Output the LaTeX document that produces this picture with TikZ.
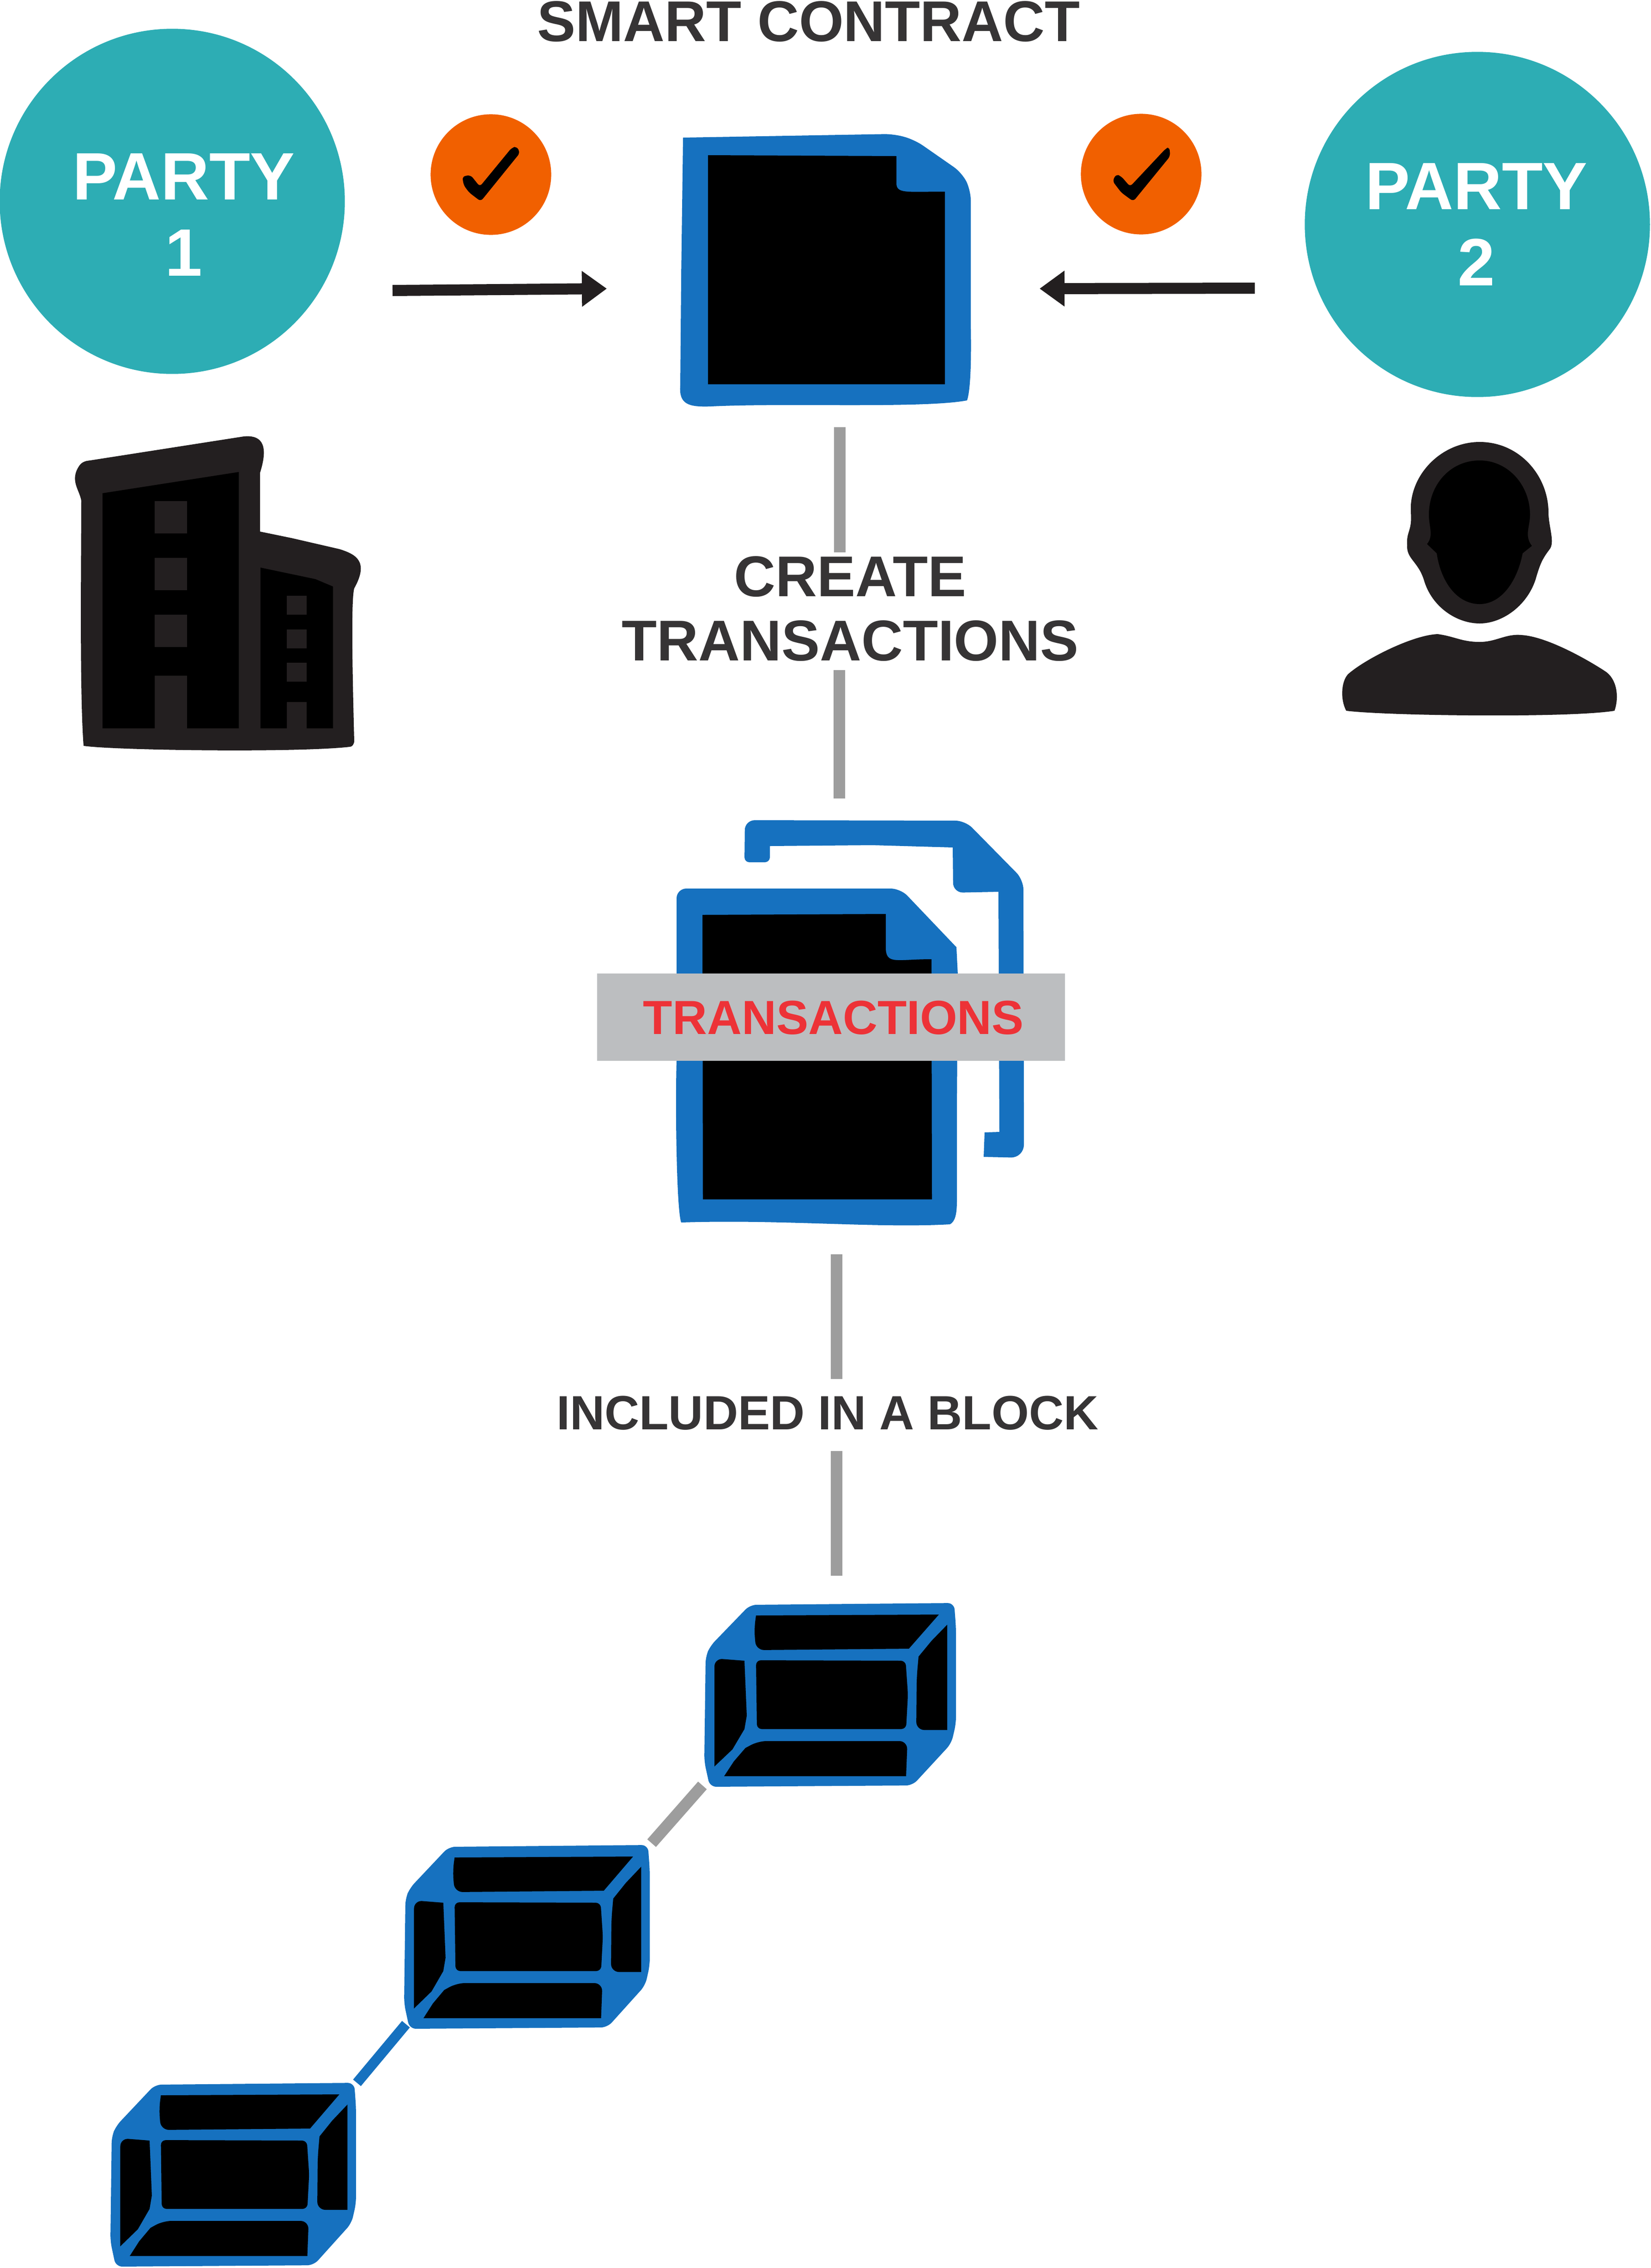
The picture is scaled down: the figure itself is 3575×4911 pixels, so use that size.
\documentclass[tikz,border=0pt]{standalone}
\usepackage{fontspec}
\setmainfont{Liberation Sans}
\usetikzlibrary{arrows.meta}
\definecolor{partyteal}{HTML}{2DADB4}
\definecolor{okorange}{HTML}{F16000}
\definecolor{docblue}{HTML}{1671BF}
\definecolor{inkdark}{HTML}{231F20}
\definecolor{labelgray}{HTML}{363435}
\definecolor{linkgray}{HTML}{9D9D9D}
\definecolor{bargray}{HTML}{BCBEC0}
\definecolor{txred}{HTML}{ED3237}
\tikzstyle{party}=[circle,fill=partyteal,inner sep=0pt,minimum size=7.47cm]
\tikzstyle{partytext}=[text=white,align=center,inner sep=0pt,font=\fontsize{41.3}{46.7}\selectfont\bfseries]
\tikzstyle{okdot}=[circle,fill=okorange,inner sep=0pt,minimum size=2.61cm]
\tikzstyle{heading}=[text=labelgray,align=center,inner sep=0pt,font=\fontsize{35.4}{39.7}\selectfont\bfseries]
\tikzstyle{sendarrow}=[draw=inkdark,line width=0.24cm,-{Triangle[length=0.54cm,width=0.74cm]}]
\tikzstyle{greylink}=[draw=linkgray,line width=0.25cm]
\tikzstyle{bluelink}=[draw=docblue,line width=0.22cm]
\tikzstyle{sheet}=[fill=docblue]
\tikzstyle{face}=[fill=black]

\begin{document}
\begin{tikzpicture}[x=0.01cm,y=-0.01cm]
\useasboundingbox (0,0) rectangle (3575,4911);

% parties
\node[party] (party1) at (373,436) {};
\node[party] (party2) at (3199,486) {};
\node[partytext] (party1txt) at (398,465) {PARTY\\1};
\node[partytext] (party2txt) at (3197,486) {PARTY\\2};

\node[okdot] (ok1) at (1063,378) {};
\node[okdot] (ok2) at (2471,377) {};
\fill[black,rounded corners=2pt] (1001,382) -- (1019,379) -- (1039,404) -- (1108,320) -- (1119,317) -- (1126,331) -- (1041,436) -- (1016,417) -- (1004,401) -- cycle;
\fill[black,rounded corners=2pt] (2409,392) -- (2417,377) -- (2428,382) -- (2447,404) -- (2524,322) -- (2532,318) -- (2534,338) -- (2454,436) -- (2428,417) -- cycle;

% contract
\node[heading] (title) at (1751,47) {SMART CONTRACT};
\fill[sheet] (1479,298) [rounded corners=6pt] -- (1936,290) -- (1981,303) -- (2083,374) -- (2102,412) [sharp corners] -- (2102,700) .. controls (2104,800) and (2100,850) .. (2094,867) .. controls (2000,885) and (1700,872) .. (1540,880) .. controls (1490,882) and (1470,875) .. (1473,835) -- (1475,600) -- cycle;
\fill[black] (1533,336) -- (1941,338) -- (1941,396) .. controls (1941,420) and (1960,415) .. (2046,415) -- (2046,832) -- (1533,832) -- cycle;

\coordinate (arrow1a) at (850,629);
\coordinate (arrow1b) at (1314,625);
\coordinate (arrow2a) at (2717,624);
\coordinate (arrow2b) at (2251,625);
\draw[sendarrow] (arrow1a) -- (arrow1b);
\draw[sendarrow] (arrow2a) -- (arrow2b);

% company
\fill[inkdark] (181,1615) .. controls (172,1500) and (176,1200) .. (176,1084) .. controls (172,1060) and (150,1040) .. (172,1008) .. controls (178,1000) and (185,998) .. (195,997) -- (528,945) .. controls (560,942) and (585,955) .. (563,1024) -- (563,1151) -- (631,1165) -- (735,1189) .. controls (770,1200) and (800,1215) .. (767,1274) .. controls (760,1300) and (763,1450) .. (767,1604) .. controls (767,1612) and (762,1617) .. (758,1617) .. controls (650,1630) and (250,1625) .. (181,1615) -- cycle;
\fill[black] (222,1068) -- (517,1022) -- (517,1577) -- (405,1577) -- (405,1463) -- (335,1463) -- (335,1577) -- (222,1577) -- cycle;
\fill[black] (564,1229) -- (683,1254) -- (721,1270) -- (721,1577) -- (664,1577) -- (664,1520) -- (621,1520) -- (621,1577) -- (564,1577) -- cycle;
\foreach \wy in {1085,1208,1331} {
	\fill[inkdark] (335,\wy) rectangle ++(70,70);
};
\foreach \wy in {1290,1363,1435} {
	\fill[inkdark] (621,\wy) rectangle ++(43,41);
};

% person
\fill[inkdark] (3204,957) .. controls (3290,957) and (3353,1030) .. (3353,1110) .. controls (3353,1140) and (3368,1175) .. (3355,1190) .. controls (3340,1210) and (3335,1220) .. (3325,1255) .. controls (3305,1315) and (3250,1350) .. (3204,1350) .. controls (3155,1350) and (3100,1315) .. (3083,1255) .. controls (3070,1215) and (3045,1210) .. (3047,1180) .. controls (3045,1150) and (3058,1150) .. (3055,1110) .. controls (3050,1030) and (3120,957) .. (3204,957) -- cycle;
\fill[black] (3204,997) .. controls (3265,997) and (3313,1050) .. (3313,1115) .. controls (3313,1140) and (3300,1160) .. (3317,1182) -- (3297,1198) .. controls (3285,1260) and (3250,1308) .. (3204,1308) .. controls (3155,1308) and (3120,1260) .. (3111,1198) -- (3090,1178) .. controls (3105,1160) and (3094,1140) .. (3094,1115) .. controls (3094,1050) and (3140,997) .. (3204,997) -- cycle;
\fill[inkdark] (2915,1539) .. controls (2900,1510) and (2906,1470) .. (2921,1458) .. controls (2960,1425) and (3060,1375) .. (3113,1373) .. controls (3150,1378) and (3165,1390) .. (3204,1390) .. controls (3240,1390) and (3260,1372) .. (3294,1375) .. controls (3350,1378) and (3440,1430) .. (3475,1453) .. controls (3502,1470) and (3506,1510) .. (3496,1539) .. controls (3400,1555) and (3000,1550) .. (2915,1539) -- cycle;

% middle labels and links
\node[heading] (create) at (1841,1318) {CREATE\\TRANSACTIONS};
\node[heading,font=\fontsize{29.6}{30}\selectfont\bfseries] (included) at (1792,3060) {INCLUDED IN A BLOCK};

\coordinate (link1a) at (1818,925);
\coordinate (link1b) at (1818,1196);
\coordinate (link2a) at (1817,1451);
\coordinate (link2b) at (1817,1729);
\coordinate (link3a) at (1811,2716);
\coordinate (link3b) at (1811,2986);
\coordinate (link4a) at (1811,3142);
\coordinate (link4b) at (1811,3412);
\coordinate (link5a) at (1521,3866);
\coordinate (link5b) at (1411,3991);
\coordinate (link6a) at (879,4383);
\coordinate (link6b) at (773,4510);
\foreach \i in {1,...,5} {
	\draw[greylink] (link\i a) -- (link\i b);
};
\draw[bluelink] (link6a) -- (link6b);

% transaction sheets
\fill[sheet] (1612,1867) [rounded corners=6pt] -- (1613,1776) -- (2090,1777) -- (2216,1905) [sharp corners] -- (2217,2400) [rounded corners=8pt] -- (2217,2507) [sharp corners] -- (2130,2505) -- (2132,2452) -- (2164,2451) -- (2162,1931) [rounded corners=6pt] -- (2064,1933) [sharp corners] -- (2063,1835) -- (1888,1830) -- (1667,1832) [rounded corners=3pt] -- (1667,1867) -- cycle;
\fill[sheet] (1465,2100) [rounded corners=6pt] -- (1465,1924) -- (1950,1924) [sharp corners] -- (2071,2051) -- (2074,2110) -- (2072,2400) -- (2072,2600) .. controls (2072,2630) and (2068,2645) .. (2057,2651) .. controls (1900,2660) and (1700,2640) .. (1475,2647) .. controls (1465,2620) and (1462,2400) .. (1465,2297) -- cycle;
\fill[black] (1521,1981) -- (1918,1979) -- (1918,2051) .. controls (1918,2090) and (1940,2077) .. (2017,2077) -- (2018,2597) -- (1522,2597) -- cycle;
\node[fill=bargray,minimum width=10.13cm,minimum height=1.89cm,inner sep=0pt] (txbar) at (1799.5,2202.5) {};
\node[text=txred,inner sep=0pt,font=\fontsize{29.5}{30}\selectfont\bfseries] (txlabel) at (1805,2204) {TRANSACTIONS};

% blocks
\foreach \bx/\by/\bs in {1525/3471/1,875/3995/0.976,239/4510/0.976} {
	\begin{scope}[shift={(\bx,\by)},xscale=\bs]
	\fill[sheet,rounded corners=4pt] (99,4) -- (541,0) -- (545,53) -- (545,261) -- (535,304) -- (451,395) -- (12,398) -- (0,343) -- (3,116) -- (13,93) -- cycle;
	\fill[face] (112,27) -- (508,25) -- (443,99) [rounded corners=5pt] -- (112,102) -- (108,57) [sharp corners] -- cycle;
	\fill[face] (87,125) [rounded corners=5pt] -- (22,120) [sharp corners] -- (22,354) -- (61,317) -- (87,273) -- (92,244) -- cycle;
	\fill[face] (112,124) [rounded corners=3pt] -- (436,125) -- (441,198) -- (437,273) -- (114,273) -- cycle;
	\fill[face] (526,47) -- (526,275) [rounded corners=5pt] -- (459,275) -- (460,161) [sharp corners] -- (464,116) -- (492,82) -- cycle;
	\fill[face] (43,375) -- (437,375) [rounded corners=5pt] -- (440,299) -- (117,299) [sharp corners] -- (89,314) -- (64,343) -- cycle;
	\end{scope}
};
\end{tikzpicture}
\end{document}
